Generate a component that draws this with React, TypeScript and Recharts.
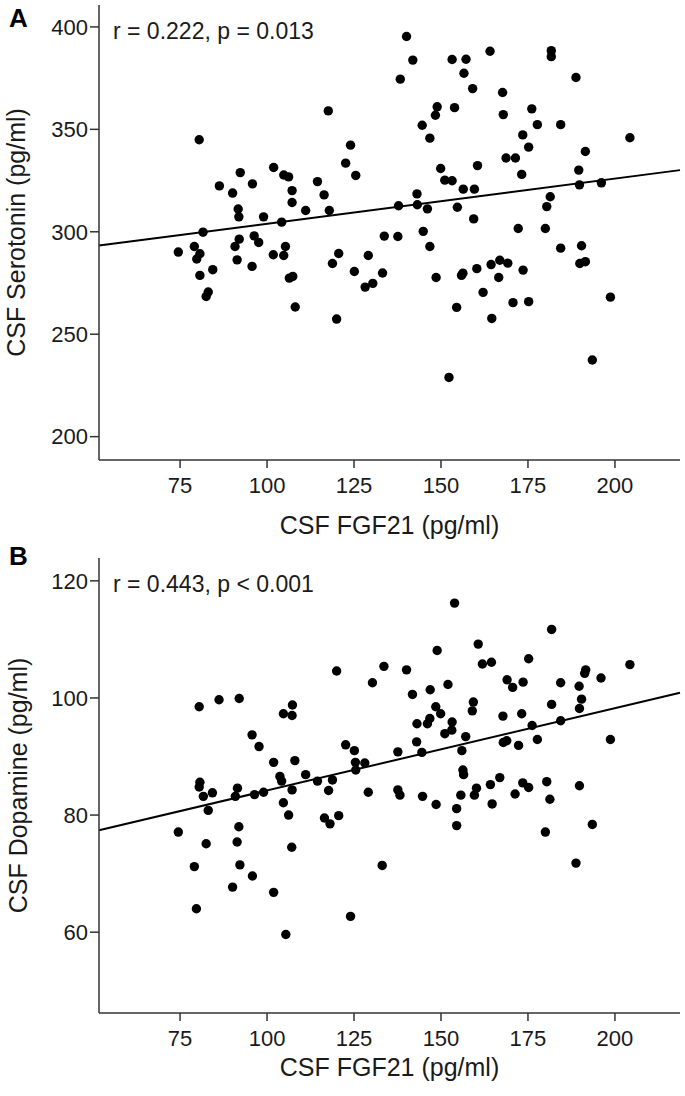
import { ScatterChart, Scatter, XAxis, YAxis, ReferenceLine } from "recharts";

const FONT = '"Liberation Sans", Arial, Helvetica, sans-serif';
const INK = "#1a1a1a";
const AXIS = "#333";

const xTicks = [75, 100, 125, 150, 175, 200];
const serotoninTicks = [200, 250, 300, 350, 400];
const dopamineTicks = [60, 80, 100, 120];

// panel A: CSF FGF21 vs CSF serotonin
const fgf21A = [
  80.5, 117.6, 124.0, 122.6, 125.5, 86.3, 92.3, 95.8, 90.1, 91.7, 91.9, 99.0, 101.9, 104.8, 106.2, 107.2,
  107.2, 104.2, 111.1, 114.5, 116.4, 117.9, 81.6, 92.0, 96.3, 97.6, 105.3, 79.1, 90.8, 74.5, 80.7, 79.8,
  80.7, 84.4, 83.1, 82.5, 91.4, 95.7, 101.8, 104.8, 106.4, 107.4, 108.1, 118.8, 120.6, 120.0, 125.1, 140.1,
  141.9, 138.3, 153.2, 157.2, 156.6, 159.1, 164.1, 167.7, 167.9, 181.7, 181.7, 188.8, 148.9, 148.4, 153.9, 144.6,
  146.8, 176.1, 177.7, 184.4, 173.5, 175.2, 204.3, 191.5, 189.6, 189.8, 196.1, 168.7, 171.4, 173.2, 160.5, 149.9,
  151.1, 153.2, 156.4, 159.6, 143.1, 137.8, 143.2, 146.1, 154.7, 159.4, 181.4, 180.4, 172.2, 180.0, 133.7, 137.6,
  144.9, 146.8, 184.4, 190.4, 129.1, 133.2, 128.2, 130.4, 148.6, 155.9, 156.3, 160.3, 164.4, 166.9, 169.2, 166.6,
  162.1, 154.5, 164.6, 173.6, 170.7, 175.2, 189.9, 191.5, 198.7, 193.5, 152.3,
];
const serotonin = [
  344.9, 359.0, 342.3, 333.5, 327.5, 322.4, 328.9, 323.4, 318.9, 311.1, 307.3, 307.3, 331.4, 327.7, 326.8, 320.1,
  314.3, 304.7, 310.4, 324.5, 318.0, 310.4, 299.8, 296.4, 298.0, 294.8, 292.8, 292.8, 292.8, 290.1, 289.3, 286.7,
  278.7, 281.5, 270.6, 268.4, 286.3, 283.1, 288.8, 288.4, 277.4, 278.2, 263.3, 284.5, 289.4, 257.4, 280.6, 395.3,
  383.8, 374.5, 384.1, 384.2, 377.4, 369.9, 388.1, 368.0, 357.2, 388.4, 385.5, 375.3, 361.0, 356.9, 360.6, 352.0,
  345.7, 360.0, 352.3, 352.3, 347.3, 341.3, 345.9, 339.2, 330.1, 322.9, 323.9, 336.0, 336.0, 328.0, 332.3, 330.9,
  325.2, 324.9, 320.8, 320.8, 318.5, 312.7, 313.2, 311.2, 312.0, 306.3, 317.1, 312.3, 301.6, 301.6, 297.9, 297.7,
  300.2, 292.8, 292.0, 293.2, 288.4, 279.9, 273.0, 274.8, 277.7, 278.7, 279.8, 282.0, 284.0, 286.1, 284.7, 277.7,
  270.4, 263.1, 257.7, 281.3, 265.4, 265.9, 284.5, 285.4, 268.1, 237.4, 228.9,
];

// panel B: CSF FGF21 vs CSF dopamine
const fgf21B = [
  120.0, 80.5, 86.2, 92.0, 104.7, 107.3, 107.2, 95.7, 97.7, 101.9, 108.0, 122.6, 125.1, 125.4, 125.5, 80.7,
  80.5, 84.3, 91.5, 81.7, 103.7, 104.2, 111.1, 114.5, 118.8, 107.2, 117.7, 96.4, 99.0, 90.9, 104.7, 106.2,
  116.5, 118.1, 120.6, 83.1, 74.5, 82.5, 91.9, 91.4, 107.1, 79.1, 92.2, 95.8, 90.1, 101.9, 79.7, 124.0,
  105.4, 153.9, 181.8, 148.9, 160.7, 161.9, 164.5, 175.2, 204.3, 191.6, 191.3, 133.6, 140.1, 130.3, 196.0, 184.4,
  189.7, 169.0, 170.6, 173.6, 152.0, 146.9, 141.8, 159.3, 159.0, 190.4, 189.8, 181.8, 148.5, 149.9, 167.8, 173.2,
  143.1, 146.1, 146.8, 153.2, 153.1, 151.1, 176.2, 184.4, 157.1, 156.0, 143.0, 144.5, 137.6, 167.9, 168.9, 172.3,
  177.7, 198.7, 128.1, 156.3, 156.5, 166.9, 164.2, 160.2, 173.5, 175.2, 180.4, 189.8, 129.1, 137.6, 138.2, 144.7,
  155.7, 159.6, 171.3, 181.3, 148.6, 154.5, 164.7, 154.5, 180.0, 193.5, 188.8, 133.1,
];
const dopamine = [
  104.6, 98.5, 99.7, 99.9, 97.3, 98.8, 97.0, 93.7, 91.7, 89.0, 89.3, 92.0, 91.0, 89.0, 87.7, 85.6,
  84.8, 83.8, 84.6, 83.2, 86.6, 85.8, 86.9, 85.8, 86.0, 84.3, 84.2, 83.5, 83.9, 83.2, 82.1, 80.0,
  79.5, 78.5, 79.9, 80.8, 77.1, 75.1, 78.0, 75.4, 74.5, 71.2, 71.5, 69.6, 67.7, 66.8, 64.0, 62.7,
  59.6, 116.2, 111.7, 108.1, 109.2, 105.8, 106.1, 106.7, 105.7, 104.8, 104.2, 105.4, 104.8, 102.6, 103.4, 102.6,
  102.0, 103.1, 101.8, 102.7, 102.3, 101.4, 100.6, 99.3, 97.8, 99.8, 98.2, 98.9, 98.5, 97.3, 96.9, 97.3,
  95.6, 95.6, 96.5, 95.9, 94.5, 93.9, 95.3, 96.1, 93.4, 91.0, 92.5, 90.7, 90.8, 92.4, 92.7, 91.9,
  92.9, 92.9, 88.9, 87.7, 86.9, 86.4, 85.2, 84.6, 85.5, 84.7, 85.7, 85.0, 83.9, 84.3, 83.4, 83.2,
  83.4, 83.4, 83.6, 82.7, 81.8, 81.1, 81.9, 78.2, 77.1, 78.4, 71.8, 71.4,
];

// fit line end points, read at the plot edges
const fitA = [
  { x: 51.7, y: 293.3 },
  { x: 218.7, y: 330.1 },
];
const fitB = [
  { x: 51.7, y: 77.4 },
  { x: 218.7, y: 100.9 },
];

const toPoints = (xs: number[], ys: number[]) => xs.map((x, i) => ({ x, y: ys[i] }));

const Dot = (props: any) => <circle cx={props.cx} cy={props.cy} r={4.7} fill="#000" />;

interface PanelProps {
  top: number;
  height: number;
  letter: string;
  letterY: number;
  stat: string;
  yLabel: string;
  yLabelX: number;
  yDomain: [number, number];
  yTicks: number[];
  points: { x: number; y: number }[];
  fit: { x: number; y: number }[];
  xLabelY: number;
}

function Panel(p: PanelProps) {
  const tick = { fill: INK, fontSize: 22, fontFamily: FONT };
  return (
    <div style={{ position: "absolute", left: 0, top: p.top, width: 685, height: p.height }}>
      <ScatterChart width={685} height={p.height} margin={{ top: 5, right: 5, bottom: 0, left: 0 }}>
        <XAxis
          type="number"
          dataKey="x"
          domain={[51.7, 218.7]}
          ticks={xTicks}
          allowDataOverflow
          height={p.height - 460}
          tick={tick}
          tickSize={8}
          tickMargin={9}
          axisLine={{ stroke: AXIS, strokeWidth: 1.5 }}
          tickLine={{ stroke: AXIS, strokeWidth: 1.5 }}
        />
        <YAxis
          type="number"
          dataKey="y"
          domain={p.yDomain}
          ticks={p.yTicks}
          allowDataOverflow
          width={99}
          tick={tick}
          tickSize={9}
          tickMargin={2}
          axisLine={{ stroke: AXIS, strokeWidth: 1.5 }}
          tickLine={{ stroke: AXIS, strokeWidth: 1.5 }}
        />
        <ReferenceLine
          segment={p.fit}
          stroke="#000"
          strokeWidth={2}
          ifOverflow="visible"
        />
        <Scatter data={p.points} shape={Dot} isAnimationActive={false} />
      </ScatterChart>
      <svg
        width={685}
        height={p.height}
        style={{ position: "absolute", left: 0, top: 0, pointerEvents: "none", overflow: "visible" }}
        fontFamily={FONT}
        fill={INK}
      >
        <text x={9} y={p.letterY} fontSize={26} fontWeight="bold" fill="#000">
          {p.letter}
        </text>
        <text x={113} y={39} fontSize={23}>
          {p.stat}
        </text>
        <text transform={`translate(${p.yLabelX},232.5) rotate(-90)`} textAnchor="middle" fontSize={25}>
          {p.yLabel}
        </text>
        <text x={389.5} y={p.xLabelY} textAnchor="middle" fontSize={25}>
          CSF FGF21 (pg/ml)
        </text>
      </svg>
    </div>
  );
}

export default function App() {
  return (
    <div style={{ position: "absolute", left: 0, top: 0, width: 685, height: 1096, background: "#fff" }}>
      <Panel
        top={0}
        height={553}
        letter="A"
        letterY={27}
        stat="r = 0.222, p = 0.013"
        yLabel="CSF Serotonin (pg/ml)"
        yLabelX={25}
        yDomain={[188.6, 410.7]}
        yTicks={serotoninTicks}
        points={toPoints(fgf21A, serotonin)}
        fit={fitA}
        xLabelY={534}
      />
      <Panel
        top={553}
        height={543}
        letter="B"
        letterY={12}
        stat="r = 0.443, p < 0.001"
        yLabel="CSF Dopamine (pg/ml)"
        yLabelX={27}
        yDomain={[46.2, 123.9]}
        yTicks={dopamineTicks}
        points={toPoints(fgf21B, dopamine)}
        fit={fitB}
        xLabelY={523}
      />
    </div>
  );
}
